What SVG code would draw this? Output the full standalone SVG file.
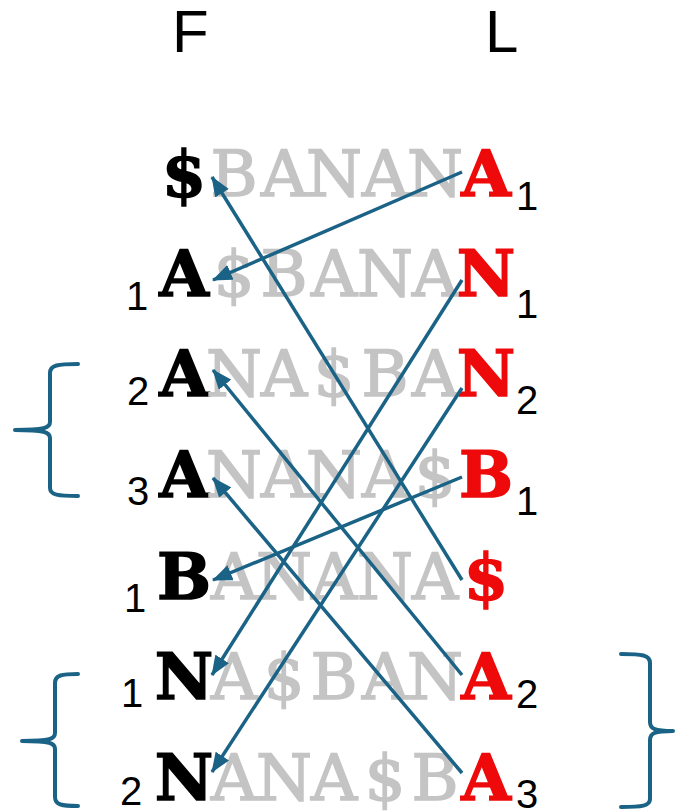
<svg xmlns="http://www.w3.org/2000/svg" width="675" height="811" viewBox="0 0 675 811">
  <defs>
    <style>
      .hdr { font-family: "Liberation Sans", Arial, sans-serif; font-size: 60px; fill: #000; }
      .sub { font-family: "Liberation Sans", Arial, sans-serif; font-size: 40px; fill: #000; }
      .row { font-family: "DejaVu Serif", "Liberation Serif", serif; font-size: 64px; text-anchor: middle; }
      .k { fill: #000; stroke: #000; stroke-width: 1.5px; font-weight: bold; }
      .g { fill: #c4c4c4; stroke: #c4c4c4; stroke-width: 1.6px; font-weight: normal; }
      .r { fill: #ee0a0a; stroke: #ee0a0a; stroke-width: 1.5px; font-weight: bold; }
      .link { fill: none; stroke: #1b6386; stroke-width: 3.5; marker-end: url(#head); }
      .brace { fill: none; stroke: #1b6386; stroke-width: 4; stroke-linecap: round; stroke-linejoin: round; }
    </style>
    <marker id="head" viewBox="0 0 20 16" refX="19" refY="8" markerWidth="20" markerHeight="16" markerUnits="userSpaceOnUse" orient="auto">
      <path d="M0,0 L20,8 L0,16 Z" fill="#1b6386"/>
    </marker>
  </defs>

  <rect width="675" height="811" fill="#fff"/>

  <!-- column headers -->
  <g id="header-F"><text class="hdr" x="172" y="52">F</text></g>
  <g id="header-L"><text class="hdr" x="485" y="52">L</text></g>

  <!-- rotations, sorted; one fixed cell per character -->
  <g id="row1">
    <text class="row" y="196"><tspan class="k" x="184">$</tspan><tspan class="g" x="234 284 334 385 435">BANAN</tspan><tspan class="r" x="486">A</tspan></text>
    <text class="sub" x="516" y="210">1</text>
  </g>
  <g id="row2">
    <text class="sub" x="126" y="310">1</text>
    <text class="row" y="296"><tspan class="k" x="184">A</tspan><tspan class="g" x="234 284 334 385 435">$BANA</tspan><tspan class="r" x="486">N</tspan></text>
    <text class="sub" x="516" y="318">1</text>
  </g>
  <g id="row3">
    <text class="sub" x="127" y="405">2</text>
    <text class="row" y="396"><tspan class="k" x="184">A</tspan><tspan class="g" x="234 284 334 385 435">NA$BA</tspan><tspan class="r" x="486">N</tspan></text>
    <text class="sub" x="516" y="414">2</text>
  </g>
  <g id="row4">
    <text class="sub" x="127" y="505">3</text>
    <text class="row" y="497"><tspan class="k" x="184">A</tspan><tspan class="g" x="234 284 334 385 435">NANA$</tspan><tspan class="r" x="486">B</tspan></text>
    <text class="sub" x="516" y="515">1</text>
  </g>
  <g id="row5">
    <text class="sub" x="124" y="612">1</text>
    <text class="row" y="599"><tspan class="k" x="184">B</tspan><tspan class="g" x="234 284 334 385 435">ANANA</tspan><tspan class="r" x="486">$</tspan></text>
  </g>
  <g id="row6">
    <text class="sub" x="121" y="707">1</text>
    <text class="row" y="699"><tspan class="k" x="184">N</tspan><tspan class="g" x="234 284 334 385 435">A$BAN</tspan><tspan class="r" x="486">A</tspan></text>
    <text class="sub" x="516" y="708">2</text>
  </g>
  <g id="row7">
    <text class="sub" x="120" y="805">2</text>
    <text class="row" y="800"><tspan class="k" x="184">N</tspan><tspan class="g" x="234 284 334 385 435">ANA$B</tspan><tspan class="r" x="486">A</tspan></text>
    <text class="sub" x="516" y="808">3</text>
  </g>

  <!-- LF mapping: each L entry points at its F counterpart -->
  <g id="connectors">
    <line class="link" x1="462" y1="172" x2="213" y2="280"/>
    <line class="link" x1="462" y1="580" x2="212" y2="177"/>
    <line class="link" x1="462" y1="280" x2="212" y2="675"/>
    <line class="link" x1="462" y1="388" x2="212" y2="772"/>
    <line class="link" x1="462" y1="477" x2="213" y2="580"/>
    <line class="link" x1="462" y1="675" x2="213" y2="370"/>
    <line class="link" x1="462" y1="773" x2="213" y2="478"/>
  </g>

  <!-- braces grouping equal runs -->
  <g id="brace-left-A">
    <path class="brace" d="M78,364 C58,364 50,365 50,373 L50,422 C50,428 44,430 15,430 C44,430 50,432 50,438 L50,488 C50,495 58,496 78,496"/>
  </g>
  <g id="brace-left-N">
    <path class="brace" d="M78,674 C62,674 55,675 55,683 L55,733 C55,739 50,741 22,741 C50,741 55,743 55,749 L55,797 C55,805 62,806 78,806"/>
  </g>
  <g id="brace-right-A">
    <path class="brace" d="M621,654 C642,654 650,655 650,663 L650,722 C650,729 655,731 673,731 C655,731 650,733 650,740 L650,799 C650,806 642,807 621,807"/>
  </g>
</svg>
